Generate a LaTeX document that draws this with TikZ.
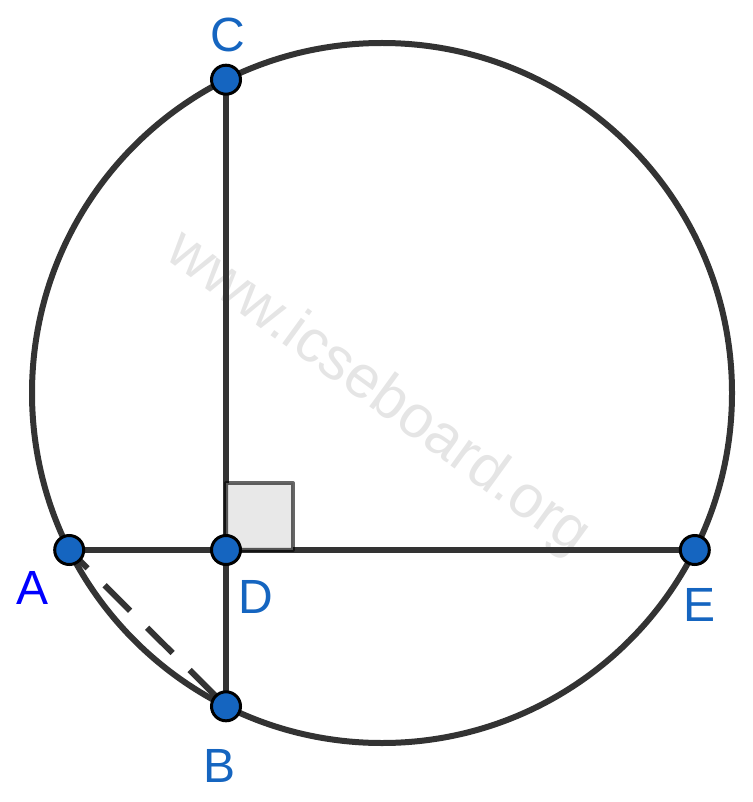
\documentclass[tikz,border=0pt]{standalone}
\usepackage{fontspec}
\setmainfont{Liberation Sans}

\definecolor{ptblue}{HTML}{1565C0}
\definecolor{lineclr}{HTML}{333333}

\tikzset{
  chordline/.style={draw=lineclr, line width=6pt},
  ptdot/.style={circle, fill=ptblue, draw=black, line width=3pt,
    minimum size=29pt, inner sep=0pt},
  ptlabel/.style={text=ptblue, inner sep=0pt, font=\fontsize{48}{48}\selectfont}
}

\begin{document}
\begin{tikzpicture}[x=1pt, y=-1pt]
  \useasboundingbox (0, 0) rectangle (752, 802);

  % watermark
  \node[rotate=-36, text=black!10, font=\fontsize{60}{60}\selectfont] (mark)
    at (378, 394) {www.icseboard.org};

  \coordinate (O) at (382, 393);
  \coordinate (C) at (226, 79.7);
  \coordinate (A) at (69.2, 550);
  \coordinate (D) at (226, 550);
  \coordinate (E) at (694.8, 550);
  \coordinate (B) at (226, 706.3);

  \draw[chordline] (O) circle (350pt);
  \draw[chordline] (C) -- (B);
  \draw[chordline] (A) -- (E);
  \draw[chordline, dash pattern=on 36pt off 24pt, dash phase=10pt] (A) -- (B);

  % right angle mark
  \fill[black!10, opacity=0.9] (D) rectangle (293, 483);
  \draw[black, draw opacity=0.6, line width=4pt, line join=round]
    (D) -- (226, 483) -- (293, 483) -- (293, 550) -- cycle;

  \node[ptdot] (dotC) at (C) {};
  \node[ptdot] (dotA) at (A) {};
  \node[ptdot] (dotD) at (D) {};
  \node[ptdot] (dotE) at (E) {};
  \node[ptdot] (dotB) at (B) {};

  \node[ptlabel] (labC) at (228, 35) {C};
  \node[ptlabel, text=blue] (labA) at (33, 588) {A};
  \node[ptlabel] (labD) at (256, 597) {D};
  \node[ptlabel] (labE) at (699, 605) {E};
  \node[ptlabel] (labB) at (220, 766) {B};

\end{tikzpicture}
\end{document}
